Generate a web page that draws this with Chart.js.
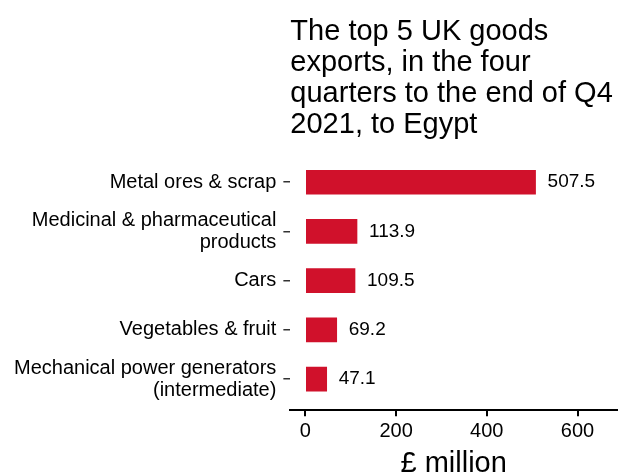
<!DOCTYPE html>
<html>
<head>
<meta charset="utf-8">
<script src="https://cdn.jsdelivr.net/npm/chart.js@4.4.1/dist/chart.umd.min.js"></script>
<style>
  html, body { margin: 0; padding: 0; background: #fff; }
  #wrap { width: 620px; height: 473px; }
</style>
</head>
<body>
<div id="wrap"><canvas id="myChart"></canvas></div>
<script>
const titleLines = ['The top 5 UK goods', 'exports, in the four', 'quarters to the end of Q4', '2021, to Egypt'];
const categories = [
  'Metal ores & scrap',
  ['Medicinal & pharmaceutical', 'products'],
  'Cars',
  'Vegetables & fruit',
  ['Mechanical power generators', '(intermediate)']
];
const values = [507.5, 113.9, 109.5, 69.2, 47.1];
const xTickValues = [0, 200, 400, 600];
const xTitle = '£ million';

const FONT = '"Liberation Sans", Arial, sans-serif';

// bars sit on integer positions of a linear y scale, so the axis can have ggplot-like padding
const points = values.map((v, i) => ({ x: v, y: i }));

// value text at the end of each bar
const valueLabels = {
  id: 'valueLabels',
  afterDatasetsDraw(chart) {
    const ctx = chart.ctx;
    const meta = chart.getDatasetMeta(0);
    ctx.save();
    ctx.font = '19px ' + FONT;
    ctx.fillStyle = '#000';
    ctx.textAlign = 'left';
    ctx.textBaseline = 'middle';
    meta.data.forEach((bar, i) => {
      ctx.fillText(values[i].toFixed(1), bar.x + 12, bar.y);
    });
    ctx.restore();
  }
};

const ctx = document.getElementById('myChart').getContext('2d');
let myChart = new Chart(ctx, {
  type: 'bar',
  data: {
    datasets: [{
      data: points,
      backgroundColor: '#d0112b',
      borderWidth: 0,
      barThickness: 24
    }]
  },
  options: {
    indexAxis: 'y',
    responsive: true,
    maintainAspectRatio: false,
    animation: false,
    layout: { padding: { left: 7, right: 3, top: 0, bottom: -8 } },
    plugins: {
      legend: { display: false },
      tooltip: { enabled: false },
      title: {
        display: true,
        text: titleLines,
        align: 'start',
        fullSize: false,
        color: '#000',
        font: { family: FONT, size: 29, weight: 'normal', lineHeight: 1.07 },
        padding: { top: 16, bottom: 13 }
      }
    },
    scales: {
      x: {
        type: 'linear',
        min: -33,
        max: 687,
        bounds: 'data',
        border: { display: true, color: '#000', width: 2 },
        grid: { drawOnChartArea: false, drawTicks: true, tickLength: 6, color: '#000', lineWidth: 2 },
        afterBuildTicks: (scale) => { scale.ticks = xTickValues.map(v => ({ value: v })); },
        ticks: {
          color: '#000',
          padding: 3,
          maxRotation: 0,
          font: { family: FONT, size: 20 }
        },
        title: {
          display: true,
          text: xTitle,
          color: '#000',
          font: { family: FONT, size: 29 },
          padding: { top: 0, bottom: 0 }
        }
      },
      y: {
        type: 'linear',
        reverse: true,
        offset: false,
        min: -0.592,
        max: 4.633,
        bounds: 'data',
        border: { display: false },
        grid: { offset: false, drawOnChartArea: false, drawTicks: true, tickLength: 7, color: '#333', lineWidth: 1.5 },
        afterBuildTicks: (scale) => { scale.ticks = categories.map((c, i) => ({ value: i })); },
        ticks: {
          color: '#000',
          padding: 7,
          autoSkip: false,
          font: { family: FONT, size: 20, lineHeight: 1.1 },
          callback: (value) => categories[value]
        }
      }
    }
  },
  plugins: [valueLabels]
});
</script>
</body>
</html>
